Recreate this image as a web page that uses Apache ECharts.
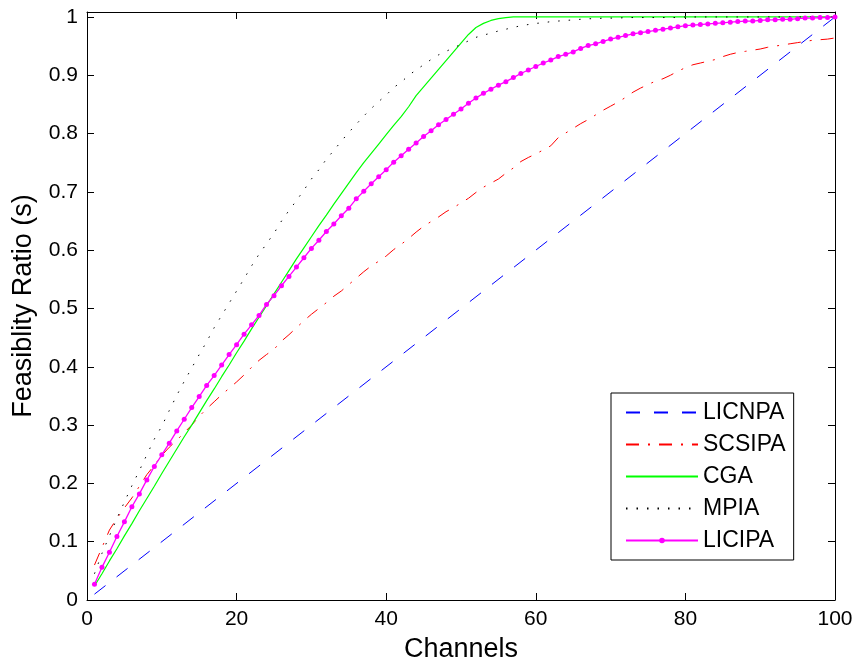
<!DOCTYPE html>
<html>
<head>
<meta charset="utf-8">
<script src="https://cdn.jsdelivr.net/npm/echarts@6/dist/echarts.min.js"></script>
<style>
html,body{margin:0;padding:0;background:#fff;}
#chart{width:853px;height:662px;}
</style>
</head>
<body>
<div id="chart"></div>
<script>
// ---- Data ----
var channels = [1,2,3,4,5,6,7,8,9,10,11,12,13,14,15,16,17,18,19,20,
  21,22,23,24,25,26,27,28,29,30,31,32,33,34,35,36,37,38,39,40,
  41,42,43,44,45,46,47,48,49,50,51,52,53,54,55,56,57,58,59,60,
  61,62,63,64,65,66,67,68,69,70,71,72,73,74,75,76,77,78,79,80,
  81,82,83,84,85,86,87,88,89,90,91,92,93,94,95,96,97,98,99,100];

var licnpaX = [1, 100];
var licnpaY = [0.01, 1.0];

var scsipa = [0.060,0.090,0.120,0.140,0.158,0.175,0.195,0.215,0.231,0.248,
  0.262,0.274,0.287,0.300,0.315,0.328,0.340,0.352,0.363,0.374,
  0.386,0.399,0.411,0.421,0.430,0.444,0.455,0.467,0.479,0.490,
  0.500,0.510,0.521,0.530,0.541,0.552,0.563,0.573,0.581,0.590,
  0.601,0.610,0.620,0.631,0.641,0.649,0.657,0.666,0.673,0.681,
  0.689,0.699,0.708,0.715,0.722,0.732,0.741,0.752,0.759,0.765,
  0.772,0.779,0.793,0.801,0.809,0.817,0.824,0.832,0.840,0.847,
  0.854,0.862,0.871,0.878,0.884,0.890,0.894,0.900,0.907,0.913,
  0.918,0.921,0.924,0.927,0.932,0.936,0.939,0.941,0.943,0.945,
  0.948,0.950,0.952,0.954,0.956,0.958,0.960,0.961,0.962,0.964];

var cga = [0.024,0.045,0.067,0.088,0.110,0.131,0.153,0.174,0.195,0.217,
  0.238,0.259,0.280,0.300,0.321,0.342,0.362,0.383,0.403,0.424,
  0.444,0.465,0.485,0.505,0.525,0.545,0.565,0.585,0.604,0.623,
  0.642,0.660,0.679,0.697,0.715,0.733,0.750,0.766,0.782,0.798,
  0.814,0.829,0.846,0.865,0.880,0.895,0.910,0.925,0.940,0.955,
  0.970,0.982,0.989,0.994,0.997,0.999,1.000,1.000,1.000,1.000,
  1.000,1.000,1.000,1.000,1.000,1.000,1.000,1.000,1.000,1.000,
  1.000,1.000,1.000,1.000,1.000,1.000,1.000,1.000,1.000,1.000,
  1.000,1.000,1.000,1.000,1.000,1.000,1.000,1.000,1.000,1.000,
  1.000,1.000,1.000,1.000,1.000,1.000,1.000,1.000,1.000,1.000];

var mpia = [0.045,0.080,0.110,0.140,0.168,0.196,0.222,0.249,0.276,0.298,
  0.325,0.351,0.375,0.398,0.421,0.443,0.467,0.488,0.509,0.530,
  0.551,0.573,0.593,0.611,0.629,0.650,0.668,0.685,0.703,0.722,
  0.738,0.756,0.771,0.787,0.802,0.816,0.830,0.843,0.855,0.866,
  0.879,0.888,0.900,0.909,0.918,0.927,0.935,0.941,0.947,0.953,
  0.959,0.965,0.969,0.972,0.976,0.979,0.982,0.985,0.987,0.989,
  0.990,0.992,0.993,0.994,0.995,0.996,0.997,0.997,0.998,0.998,
  0.998,0.999,0.999,0.999,0.999,0.999,0.999,0.999,0.999,1.000,
  1.000,1.000,1.000,1.000,1.000,1.000,1.000,1.000,1.000,1.000,
  1.000,1.000,1.000,1.000,1.000,1.000,1.000,1.000,1.000,1.000];

var licipa = [0.027,0.056,0.082,0.109,0.134,0.160,0.182,0.206,0.229,0.249,
  0.269,0.290,0.310,0.330,0.349,0.368,0.385,0.403,0.421,0.438,
  0.456,0.472,0.488,0.507,0.522,0.539,0.555,0.571,0.587,0.603,
  0.617,0.632,0.645,0.659,0.672,0.688,0.701,0.714,0.726,0.738,
  0.751,0.762,0.773,0.784,0.795,0.805,0.815,0.824,0.833,0.842,
  0.852,0.861,0.869,0.876,0.883,0.889,0.896,0.903,0.909,0.915,
  0.921,0.926,0.932,0.936,0.940,0.946,0.951,0.954,0.958,0.962,
  0.965,0.968,0.971,0.973,0.975,0.977,0.979,0.981,0.983,0.985,
  0.986,0.987,0.988,0.989,0.990,0.991,0.992,0.993,0.993,0.994,
  0.995,0.995,0.996,0.996,0.997,0.998,0.998,0.999,0.999,1.000];

var xTicks = [0, 20, 40, 60, 80, 100];
var yTicks = [0, 0.1, 0.2, 0.3, 0.4, 0.5, 0.6, 0.7, 0.8, 0.9, 1];
var seriesNames = ['LICNPA', 'SCSIPA', 'CGA', 'MPIA', 'LICIPA'];

// ---- Build chart ----
function pairs(xs, ys) {
  var out = [];
  for (var i = 0; i < ys.length; i++) out.push([xs[i], ys[i]]);
  return out;
}
var FONT = "'Liberation Sans', Arial, Helvetica, sans-serif";
var yMax = 1.0085;

function yLabel(v) {
  for (var i = 0; i < yTicks.length; i++) {
    if (Math.abs(v - yTicks[i]) < 1e-6) return String(yTicks[i]);
  }
  return '';
}

var hidden = { color: 'rgba(0,0,0,0)', borderWidth: 0, opacity: 0 };
var legendData = seriesNames.map(function (n) {
  return n === 'LICIPA' ? { name: n } : { name: n, itemStyle: hidden };
});

var axisLineStyle = { color: '#000', width: 1 };
var chart = echarts.init(document.getElementById('chart'), null, { renderer: 'canvas' });
chart.setOption({
  animation: false,
  backgroundColor: '#fff',
  grid: { left: 87, right: 18, top: 12, bottom: 62, containLabel: false, outerBoundsMode: 'none' },
  legend: {
    data: legendData,
    orient: 'vertical',
    left: 611, top: 393,
    padding: [8, 8, 8, 14],
    itemWidth: 72, itemHeight: 7, itemGap: 9,
    borderColor: '#000', borderWidth: 1,
    backgroundColor: '#fff',
    textStyle: { fontFamily: FONT, fontSize: 23, color: '#000' },
    selectedMode: false
  },
  xAxis: [{
    type: 'value', min: 0, max: 100, interval: 20,
    position: 'bottom',
    name: 'Channels', nameLocation: 'middle', nameGap: 36,
    nameTextStyle: { fontFamily: FONT, fontSize: 27, color: '#000' },
    axisLine: { show: true, onZero: false, lineStyle: axisLineStyle },
    axisTick: { show: true, inside: true, length: 7, lineStyle: axisLineStyle },
    axisLabel: { fontFamily: FONT, fontSize: 21, color: '#000', margin: 9,
      formatter: function (v) { return xTicks.indexOf(v) >= 0 ? String(v) : ''; } },
    splitLine: { show: false }
  }, {
    type: 'value', min: 0, max: 100, interval: 20,
    position: 'top',
    axisLine: { show: true, onZero: false, lineStyle: axisLineStyle },
    axisTick: { show: true, inside: true, length: 7, lineStyle: axisLineStyle },
    axisLabel: { show: false },
    splitLine: { show: false }
  }],
  yAxis: [{
    type: 'value', min: 0, max: yMax, interval: 0.1,
    position: 'left',
    name: 'Feasiblity Ratio (s)', nameLocation: 'middle', nameGap: 50,
    nameTextStyle: { fontFamily: FONT, fontSize: 27, color: '#000' },
    axisLine: { show: true, onZero: false, lineStyle: axisLineStyle },
    axisTick: { show: true, inside: true, length: 7, lineStyle: axisLineStyle },
    axisLabel: { fontFamily: FONT, fontSize: 21, color: '#000', margin: 9, formatter: yLabel },
    splitLine: { show: false }
  }, {
    type: 'value', min: 0, max: yMax, interval: 0.1,
    position: 'right',
    axisLine: { show: true, onZero: false, lineStyle: axisLineStyle },
    axisTick: { show: true, inside: true, length: 7, lineStyle: axisLineStyle },
    axisLabel: { show: false },
    splitLine: { show: false }
  }],
  series: [{
    name: 'LICNPA', type: 'line', data: pairs(licnpaX, licnpaY),
    symbol: 'none', showSymbol: false,
    lineStyle: { color: '#0000ff', width: 1, type: [14, 14] },
    itemStyle: { color: '#0000ff' }
  }, {
    name: 'SCSIPA', type: 'line', data: pairs(channels, scsipa),
    symbol: 'none', showSymbol: false,
    lineStyle: { color: '#ff0000', width: 1, type: [13, 9, 2, 9] },
    itemStyle: { color: '#ff0000' }
  }, {
    name: 'CGA', type: 'line', data: pairs(channels, cga),
    symbol: 'none', showSymbol: false,
    lineStyle: { color: '#00ff00', width: 1.2, type: 'solid' },
    itemStyle: { color: '#00ff00' }
  }, {
    name: 'MPIA', type: 'line', data: pairs(channels, mpia),
    symbol: 'none', showSymbol: false,
    lineStyle: { color: '#000000', width: 1, type: [1.5, 9] },
    itemStyle: { color: '#000000' }
  }, {
    name: 'LICIPA', type: 'line', data: pairs(channels, licipa),
    symbol: 'circle', symbolSize: 5, showSymbol: true, clip: false,
    lineStyle: { color: '#ff00ff', width: 1.3, type: 'solid' },
    itemStyle: { color: '#ff00ff', borderWidth: 0 }
  }]
});
</script>
</body>
</html>
